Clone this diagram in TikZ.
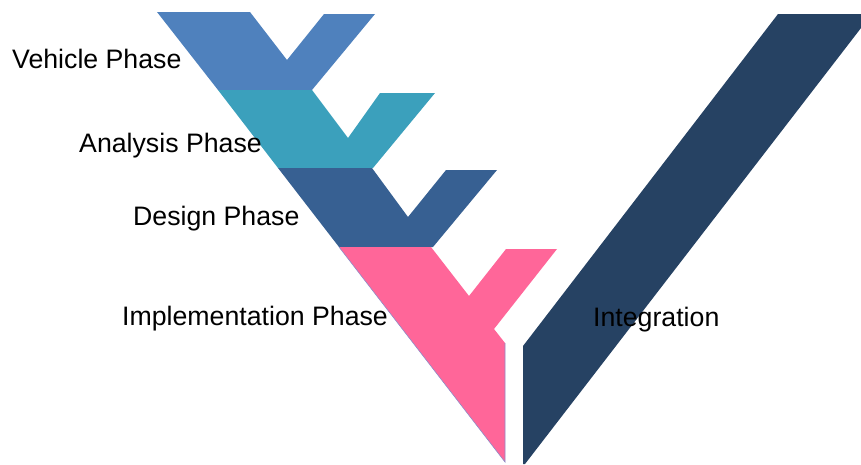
\documentclass[tikz,border=0pt]{standalone}
\usepackage{fontspec}
\setmainfont{Liberation Sans}
\definecolor{vehicleblue}{HTML}{4F81BD}
\definecolor{analysisteal}{HTML}{3BA0BC}
\definecolor{designblue}{HTML}{376092}
\definecolor{implpink}{HTML}{FF6699}
\definecolor{integnavy}{HTML}{264263}
\definecolor{edgeblue}{HTML}{8C8CC8}

\begin{document}
\begin{tikzpicture}[x=1pt,y=-1pt,
  phase/.style={anchor=base west,inner sep=0pt,font=\fontsize{26.7}{30}\selectfont}]
\useasboundingbox (0,0) rectangle (861,464);
\draw[fill=vehicleblue, draw=none] (157,12) -- (250,12) -- (287,60) -- (324,14) -- (375,14) -- (312,90) -- (218,90) -- cycle;
\draw[fill=analysisteal, draw=none] (218,90) -- (312,90) -- (348,138) -- (380,93) -- (435,93) -- (373,168) -- (278,168) -- cycle;
\draw[fill=designblue, draw=none] (278,168) -- (372,168) -- (408,217) -- (446,170) -- (497,170) -- (433,247) -- (339,247) -- cycle;
\draw[fill=implpink, draw=none] (339,247) -- (431,247) -- (469,296) -- (506,249) -- (557,249) -- (494,329) -- (505,343) -- (505,462) -- cycle;
\draw[edgeblue, line width=0.6pt] (339,247) -- (505,462) -- (505,343);
\draw[fill=integnavy, draw=none] (778,14) -- (861,14) -- (861,28) -- (525,464) -- (523,464) -- (523,346) -- cycle;
\node[phase] (vehicle) at (12,68) {Vehicle Phase};
\node[phase] (analysis) at (79,152) {Analysis Phase};
\node[phase] (design) at (133,225) {Design Phase};
\node[phase] (impl) at (122,325) {Implementation Phase};
\node[phase] (integ) at (593,326) {Integration};
\end{tikzpicture}
\end{document}
